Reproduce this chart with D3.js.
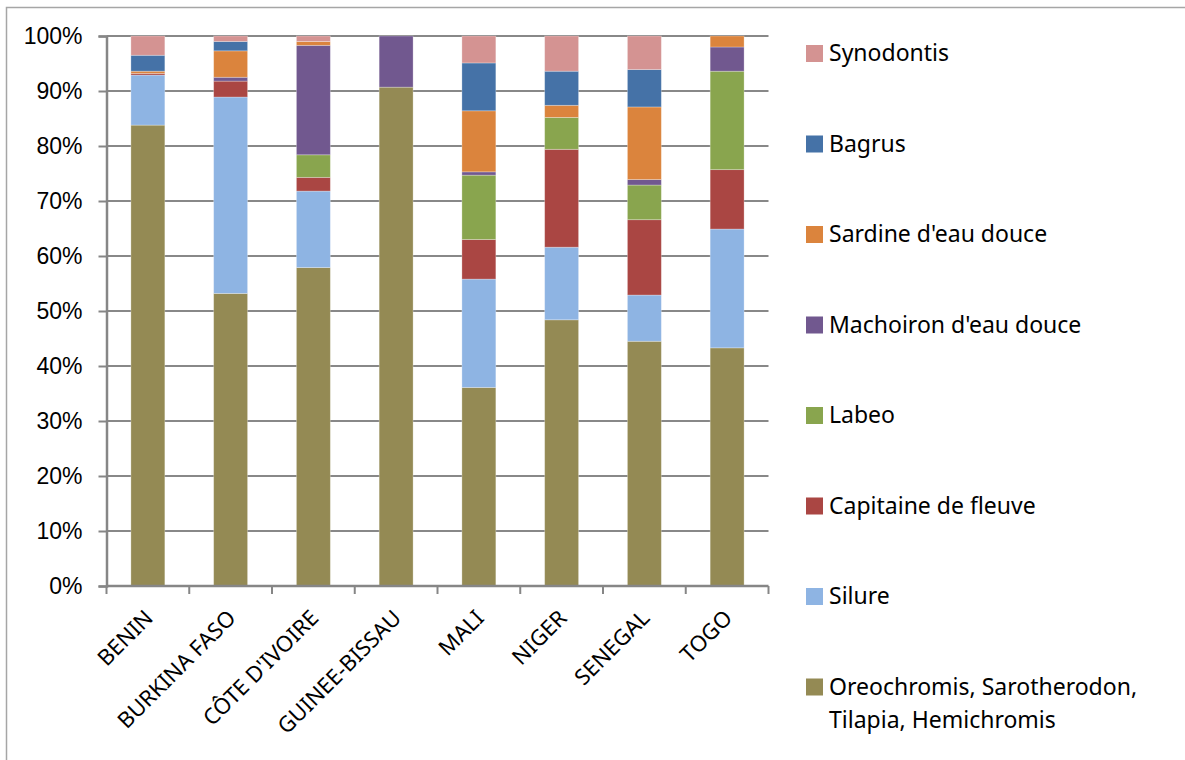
<!DOCTYPE html>
<html>
<head>
<meta charset="utf-8">
<script src="https://cdn.jsdelivr.net/npm/d3@7"></script>
<style>
  html, body { margin: 0; padding: 0; background: #fff; }
  svg { display: block; font-family: "Noto Sans", "Open Sans", sans-serif; }
</style>
</head>
<body>
<svg id="chart" width="1185" height="760"></svg>
<script>
// Countries along the x axis
const countries = ["BENIN", "BURKINA FASO", "CÔTE D'IVOIRE", "GUINEE-BISSAU", "MALI", "NIGER", "SENEGAL", "TOGO"];

// Share of catch per species group (% of total), one value per country
const oreochromis = [83.8, 53.2, 57.9, 90.7, 36.1, 48.4, 44.5, 43.3];
const silure      = [9.1, 35.7, 13.9, 0, 19.7, 13.2, 8.4, 21.6];
const capitaine   = [0.3, 2.9, 2.5, 0, 7.2, 17.8, 13.7, 10.8];
const labeo       = [0, 0, 4.1, 0, 11.7, 5.8, 6.3, 17.9];
const machoiron   = [0, 0.7, 19.9, 9.3, 0.6, 0, 1.0, 4.4];
const sardine     = [0.4, 4.8, 0.7, 0, 11.1, 2.2, 13.2, 2.0];
const bagrus      = [2.9, 1.7, 0, 0, 8.7, 6.2, 6.8, 0];
const synodontis  = [3.5, 1.0, 1.0, 0, 4.9, 6.4, 6.1, 0];

// Series names, bottom to top of each stack
const seriesNames = ["Oreochromis, Sarotherodon, Tilapia, Hemichromis", "Silure", "Capitaine de fleuve", "Labeo",
                     "Machoiron d'eau douce", "Sardine d'eau douce", "Bagrus", "Synodontis"];
const seriesValues = [oreochromis, silure, capitaine, labeo, machoiron, sardine, bagrus, synodontis];
const seriesColors = ["#948A54", "#8EB4E3", "#AA4643", "#89A54E", "#71588F", "#DB843D", "#4572A7", "#D49392"];

// Y tick values and labels
const yTicks = [0, 10, 20, 30, 40, 50, 60, 70, 80, 90, 100];

const rows = countries.map((c, i) => {
  const r = { country: c };
  seriesNames.forEach((s, j) => { r[s] = seriesValues[j][i]; });
  return r;
});

const svg = d3.select("#chart");

// Outer chart frame
svg.append("rect")
  .attr("x", 6.5).attr("y", 7.5)
  .attr("width", 1200).attr("height", 800)
  .attr("fill", "none").attr("stroke", "#a6a6a6").attr("stroke-width", 1.5);

const plot = { left: 106.5, right: 768.5, top: 36, bottom: 586 };

const x = d3.scaleBand()
  .domain(countries)
  .range([plot.left, plot.right])
  .paddingInner(0.59)
  .paddingOuter(0.295);

const y = d3.scaleLinear().domain([0, 100]).range([plot.bottom, plot.top]);

// Horizontal gridlines
svg.append("g")
  .selectAll("line")
  .data(yTicks.filter(t => t > 0))
  .join("line")
  .attr("x1", plot.left).attr("x2", plot.right)
  .attr("y1", d => y(d)).attr("y2", d => y(d))
  .attr("stroke", "#888888").attr("stroke-width", 2);

// Stacked bars
const stack = d3.stack().keys(seriesNames);
const layers = stack(rows);

svg.append("g")
  .selectAll("g")
  .data(layers)
  .join("g")
  .attr("fill", (d, i) => seriesColors[i])
  .selectAll("rect")
  .data(d => d)
  .join("rect")
  .attr("x", d => x(d.data.country))
  .attr("width", x.bandwidth())
  .attr("y", d => y(d[1]))
  .attr("height", d => Math.max(0, y(d[0]) - y(d[1])))
  .attr("stroke", "rgba(255,255,255,0.35)")
  .attr("stroke-width", 0.8);

// Y axis
const yAxis = d3.axisLeft(y)
  .tickValues(yTicks)
  .tickFormat(d => d + "%")
  .tickSize(8)
  .tickPadding(16);

const gy = svg.append("g")
  .attr("transform", `translate(${plot.left},0)`)
  .call(yAxis);
gy.select(".domain").attr("stroke", "#868686").attr("stroke-width", 2.5);
gy.selectAll(".tick line").attr("stroke", "#868686").attr("stroke-width", 2);
gy.selectAll(".tick text")
  .attr("fill", "#000")
  .style("font-size", "23px");

// X axis with category boundary ticks
const gx = svg.append("g");
gx.append("line")
  .attr("x1", plot.left).attr("x2", plot.right)
  .attr("y1", plot.bottom).attr("y2", plot.bottom)
  .attr("stroke", "#868686").attr("stroke-width", 2.5);
const step = x.step();
const boundaries = d3.range(countries.length + 1).map(i => plot.left + i * step);
gx.selectAll("line.tk")
  .data(boundaries)
  .join("line")
  .attr("class", "tk")
  .attr("x1", d => d).attr("x2", d => d)
  .attr("y1", plot.bottom).attr("y2", plot.bottom + 8)
  .attr("stroke", "#868686").attr("stroke-width", 2);

gx.selectAll("text")
  .data(countries)
  .join("text")
  .attr("transform", d => `translate(${x(d) + x.bandwidth() / 2 + 1},${plot.bottom + 28}) rotate(-45)`)
  .attr("text-anchor", "end")
  .attr("dy", "0.35em")
  .attr("fill", "#000")
  .style("font-size", "22px")
  .text(d => d);

// Legend, top entry is the top of the stack
const legendItems = seriesNames.map((s, i) => ({ name: s, color: seriesColors[i] })).reverse();
const legend = svg.append("g").attr("transform", "translate(806,0)");
const lg = legend.selectAll("g")
  .data(legendItems)
  .join("g")
  .attr("transform", (d, i) => `translate(0,${53 + i * 90.5})`);
lg.append("rect")
  .attr("x", 0).attr("y", -8)
  .attr("width", 17).attr("height", 17)
  .attr("fill", d => d.color);
lg.append("text")
  .attr("x", 23)
  .attr("fill", "#000")
  .style("font-size", "23px")
  .each(function (d) {
    const t = d3.select(this);
    const parts = d.name.startsWith("Oreochromis")
      ? ["Oreochromis, Sarotherodon,", "Tilapia, Hemichromis"]
      : [d.name];
    parts.forEach((p, k) => {
      t.append("tspan")
        .attr("x", 23)
        .attr("dy", k === 0 ? "0.35em" : "33px")
        .text(p);
    });
  });
</script>
</body>
</html>
